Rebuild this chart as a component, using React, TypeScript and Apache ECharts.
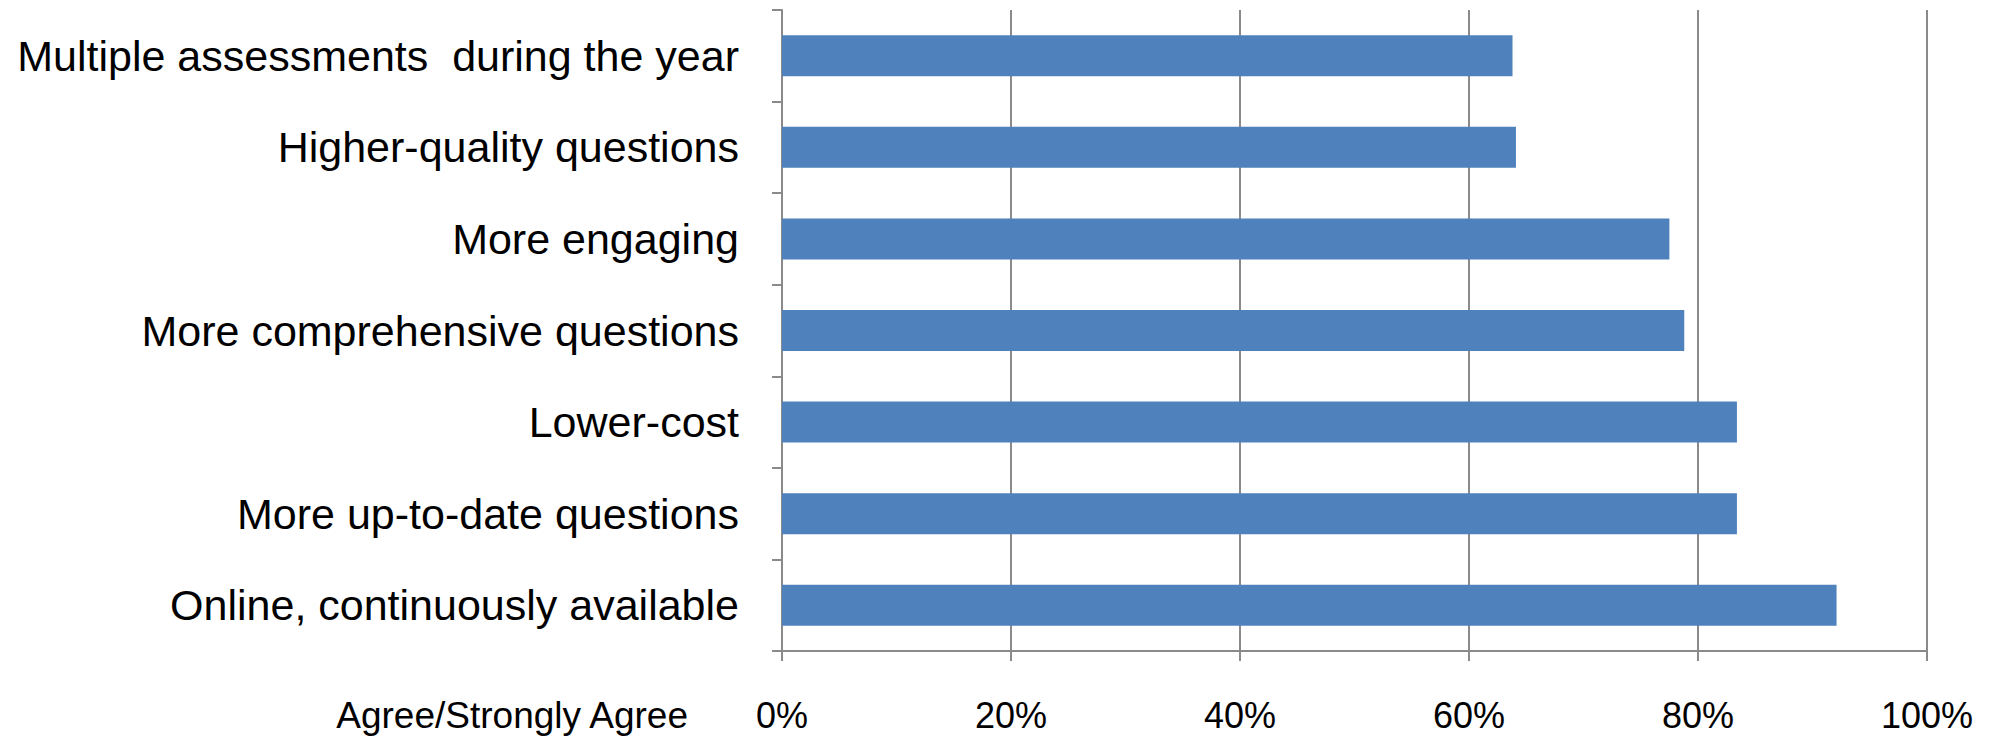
import React, { useEffect, useRef } from "react";
import * as echarts from "echarts";

const categories = [
  "Multiple assessments  during the year",
  "Higher-quality questions",
  "More engaging",
  "More comprehensive questions",
  "Lower-cost",
  "More up-to-date questions",
  "Online, continuously available",
];
const agreeValues = [63.8, 64.1, 77.5, 78.8, 83.4, 83.4, 92.1];
const axisTitle = "Agree/Strongly Agree";

const FONT = "'Liberation Sans', Arial, sans-serif";
const GRAY = "#8a8a8a";

export default function App() {
  const ref = useRef<HTMLDivElement>(null);
  useEffect(() => {
    if (!ref.current) return;
    const chart = echarts.init(ref.current, undefined, { renderer: "svg" });
    chart.setOption({
      animation: false,
      backgroundColor: "#ffffff",
      grid: { left: 782, right: 67, top: 10, bottom: 86, containLabel: false },
      xAxis: {
        type: "value",
        min: 0,
        max: 100,
        interval: 20,
        axisLine: { show: true, lineStyle: { color: GRAY, width: 2 } },
        axisTick: { show: true, length: 10, lineStyle: { color: GRAY, width: 2 } },
        splitLine: { show: true, lineStyle: { color: GRAY, width: 2 } },
        axisLabel: {
          formatter: (v: number) => `${v}%`,
          fontSize: 36,
          fontFamily: FONT,
          color: "#000",
          margin: 46,
        },
      },
      yAxis: {
        type: "category",
        data: categories,
        inverse: true,
        axisLine: { show: true, lineStyle: { color: GRAY, width: 2 } },
        axisTick: { show: true, length: 10, lineStyle: { color: GRAY, width: 2 } },
        axisLabel: {
          fontSize: 43,
          fontFamily: FONT,
          color: "#000",
          margin: 43,
        },
      },
      series: [
        {
          type: "bar",
          data: agreeValues,
          barWidth: 41,
          itemStyle: { color: "#4F81BD" },
        },
      ],
      graphic: [
        {
          type: "text",
          x: 688,
          y: 715,
          style: {
            text: axisTitle,
            fontSize: 37,
            fontFamily: FONT,
            fill: "#000",
            textAlign: "right",
            textVerticalAlign: "middle",
            verticalAlign: "middle",
          },
        },
      ],
    });
    return () => chart.dispose();
  }, []);
  return (
    <div
      ref={ref}
      style={{ position: "fixed", left: 0, top: 0, width: 1994, height: 737, background: "#fff" }}
    />
  );
}
